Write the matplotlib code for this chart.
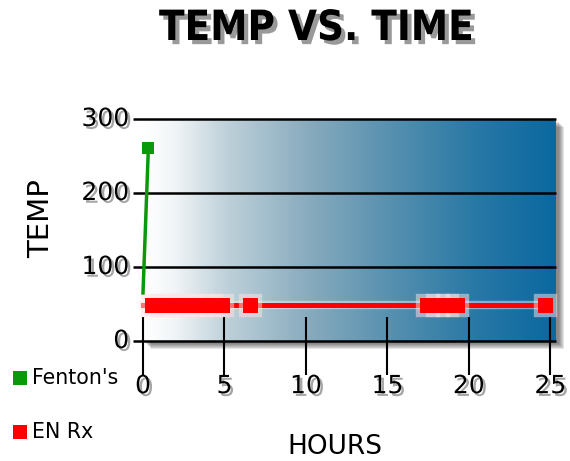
import matplotlib
matplotlib.use('Agg')
import matplotlib.pyplot as plt
import matplotlib.patheffects as pe
import matplotlib.transforms as mtransforms
from matplotlib.colors import LinearSegmentedColormap
from matplotlib.lines import Line2D
from matplotlib.patches import Rectangle
import numpy as np

# data
fenton_hours = [0.0, 0.33]
fenton_temp = [65, 261]
enrx_hours = [0.0, 0.6, 1.2, 1.8, 2.4, 3.0, 3.6, 4.2, 4.85, 6.6,
              17.5, 18.1, 18.7, 19.3, 24.7]
enrx_temp = [48, 48, 48, 48, 48, 48, 48, 48, 48, 48,
             48, 48, 48, 48, 48]
x_ticks = [0, 5, 10, 15, 20, 25]
y_ticks = [0, 100, 200, 300]
series_names = ["Fenton's", "EN Rx"]
series_colors = ['#0a990a', '#ff0000']

W, H = 570, 461
fig = plt.figure(figsize=(W / 100, H / 100), dpi=100)
# plot box: x=0 at px 143, right edge px 556; y=0 at px 341, y=300 at px 119
ax = fig.add_axes([143 / W, (H - 341) / H, 413 / W, 222 / H])
xmax = 25.35
ax.set_xlim(0, xmax)
ax.set_ylim(0, 300)
ax.axis('off')

# drop shadow behind the box
for k in [8, 7, 6, 5, 4, 3]:
    tr = mtransforms.offset_copy(ax.transData, fig=fig, x=k, y=-k, units='dots')
    ax.add_patch(Rectangle((0, 0), xmax, 300, transform=tr, facecolor='#333333',
                           edgecolor='none', alpha=0.13, zorder=0, clip_on=False))

# gradient fill
cmap = LinearSegmentedColormap.from_list('bg', [
    (0.0, '#ffffff'), (0.07, '#f2f6f8'), (0.2, '#bfd1da'), (0.4, '#88abbe'),
    (0.6, '#5790b0'), (0.8, '#2a79a6'), (1.0, '#0a68a0')])
grad = np.linspace(0, 1, 256).reshape(1, -1)
ax.imshow(grad, cmap=cmap, extent=(0, xmax, 0, 300), aspect='auto', zorder=1)

# grid lines and tick lines
ax.hlines(y_ticks, -0.62, xmax, colors='black', linewidth=1.8, zorder=2, clip_on=False)
ax.vlines(x_ticks, -46, 32, colors='black', linewidth=1.5, zorder=2, clip_on=False)

# series
glow = [pe.Stroke(linewidth=6, foreground='#ffe4e4', alpha=0.5), pe.Normal()]
ax.plot(enrx_hours, enrx_temp, color=series_colors[1], linewidth=3.6,
        marker='s', markersize=11, markevery=list(range(1, len(enrx_hours))),
        markeredgewidth=0, zorder=4, clip_on=False, path_effects=glow)
ax.plot(fenton_hours, fenton_temp, color=series_colors[0], linewidth=2.5,
        marker='s', markersize=8, markevery=[1], markeredgewidth=0,
        zorder=5, clip_on=False)

shadow = [pe.withSimplePatchShadow(offset=(2, -2), shadow_rgbFace='black', alpha=0.35)]

# tick labels
for v in y_ticks:
    ax.text(-0.85, v, str(v), ha='right', va='center', fontsize=18,
            path_effects=shadow, clip_on=False)
for v in x_ticks:
    ax.text(v, -61, str(v), ha='center', va='center', fontsize=18,
            path_effects=shadow, clip_on=False)

# titles
fig.text(316 / W, 1 - 28 / H, 'TEMP VS. TIME', ha='center', va='center',
         fontsize=30, fontweight='bold', fontstretch='condensed',
         path_effects=[pe.withSimplePatchShadow(offset=(3, -3), shadow_rgbFace='black', alpha=0.4)])
fig.text(41 / W, 1 - 219 / H, 'TEMP', ha='center', va='center', rotation=90, fontsize=21)
fig.text(335 / W, 1 - 447 / H, 'HOURS', ha='center', va='center', fontsize=19)

# legend
for i, (name, col) in enumerate(zip(series_names, series_colors)):
    yy = 1 - (378 + 54 * i) / H
    fig.add_artist(Line2D([19.5 / W], [yy], marker='s', markersize=9.5, color=col,
                          markeredgewidth=0, linestyle='none', transform=fig.transFigure))
    fig.text(32 / W, yy, name, ha='left', va='center', fontsize=14.8)

fig.savefig('out.png', dpi=100)
